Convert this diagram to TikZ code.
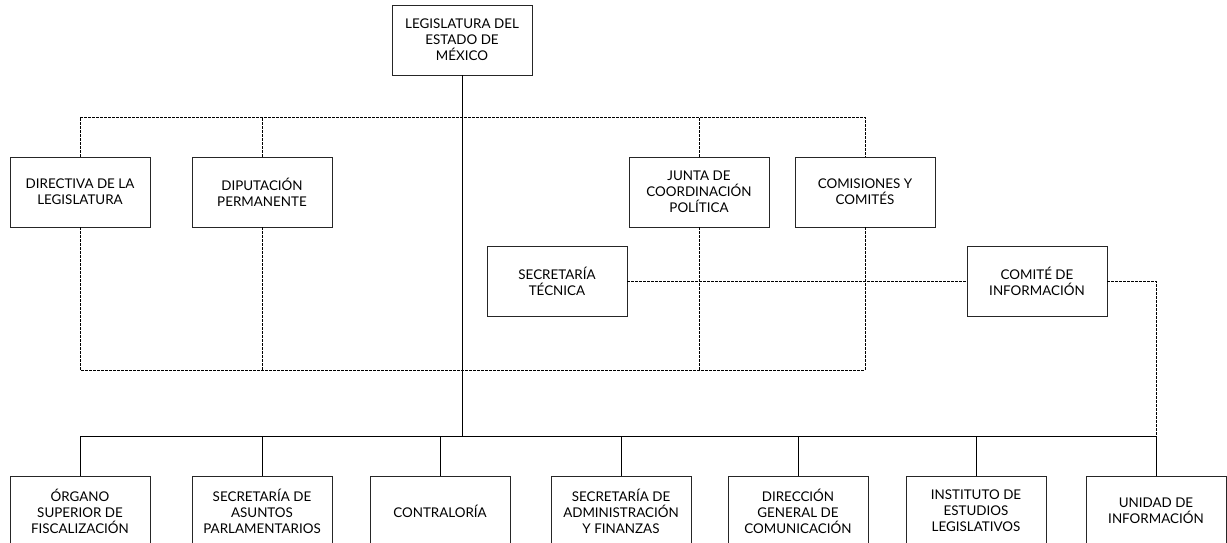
\documentclass[tikz,border=0pt]{standalone}
\usepackage{fontspec}
\setmainfont{Lato}
\tikzstyle{office}=[rectangle, draw=black!85, line width=0.8pt, minimum width=140pt, minimum height=70pt, inner sep=0pt, align=center, font=\fontsize{13.4}{16}\selectfont]
\tikzstyle{link}=[line width=0.8pt]
\tikzstyle{dlink}=[line width=0.8pt, dash pattern=on 2.5pt off 1.5pt]
\newcommand{\office}{\node[office]}

\begin{document}
\begin{tikzpicture}[x=1pt, y=-1pt]
\clip (0,0) rectangle (1227,542);
\office (top) at (462,40) {LEGISLATURA DEL\\ESTADO DE\\MÉXICO};
\office (dir) at (80,192) {DIRECTIVA DE LA\\LEGISLATURA};
\office (dip) at (262,192) {DIPUTACIÓN\\PERMANENTE};
\office (jun) at (699,192) {JUNTA DE\\COORDINACIÓN\\POLÍTICA};
\office (com) at (865,192) {COMISIONES Y\\COMITÉS};
\office (sec) at (557,281) {SECRETARÍA\\TÉCNICA};
\office (cinf) at (1037,281) {COMITÉ DE\\INFORMACIÓN};
\office (org) at (80,511) {ÓRGANO\\SUPERIOR DE\\FISCALIZACIÓN};
\office (asu) at (262,511) {SECRETARÍA DE\\ASUNTOS\\PARLAMENTARIOS};
\office (con) at (440,511) {CONTRALORÍA};
\office (adm) at (621,511) {SECRETARÍA DE\\ADMINISTRACIÓN\\Y FINANZAS};
\office (dgc) at (798,511) {DIRECCIÓN\\GENERAL DE\\COMUNICACIÓN};
\office (ins) at (976,511) {INSTITUTO DE\\ESTUDIOS\\LEGISLATIVOS};
\office (uni) at (1156,511) {UNIDAD DE\\INFORMACIÓN};
\coordinate (tbus) at (0,117);
\coordinate (lbus) at (0,370);
\coordinate (bus) at (0,436);
% dotted links of the chambers
\draw[dlink] (dir.north) |- (com.north |- tbus) -- (com.north);
\draw[dlink] (dip.north) -- (dip.north |- tbus) (jun.north) -- (jun.north |- tbus);
\draw[dlink] (dir.south) |- (com.south |- lbus) -- (com.south);
\draw[dlink] (dip.south) -- (dip.south |- lbus) (jun.south) -- (jun.south |- lbus);
\draw[dlink] (sec.east) -- (cinf.west);
\draw[dlink] (cinf.east) -| (uni.north |- bus);
% solid links
\draw[link] (top.south) -- (top.south |- bus);
\draw[link] (org.north) |- (uni.north |- bus) -- (uni.north);
\draw[link] (asu.north) -- (asu.north |- bus) (con.north) -- (con.north |- bus);
\draw[link] (adm.north) -- (adm.north |- bus) (dgc.north) -- (dgc.north |- bus);
\draw[link] (ins.north) -- (ins.north |- bus);
\end{tikzpicture}
\end{document}
